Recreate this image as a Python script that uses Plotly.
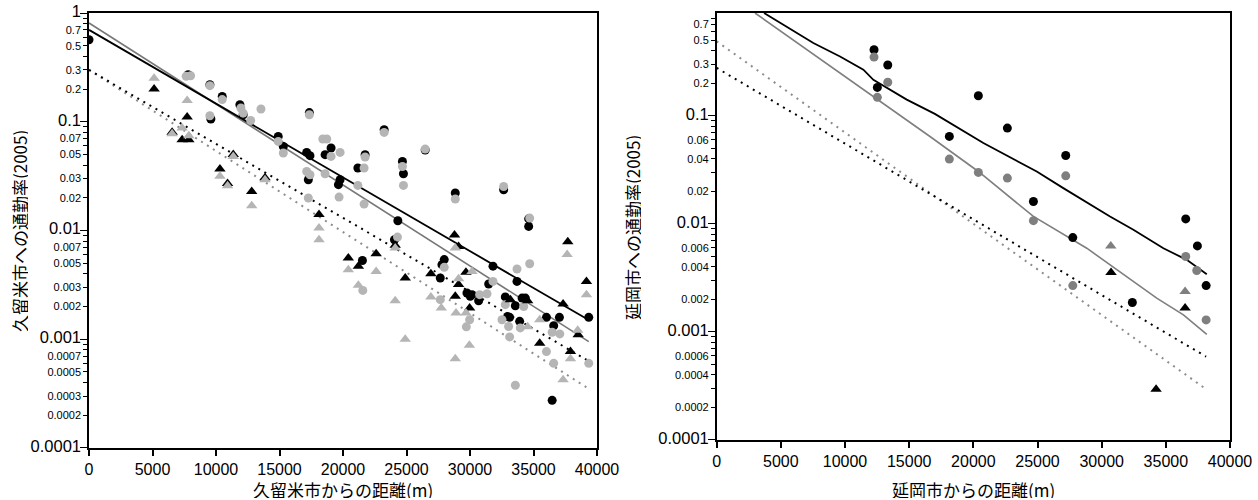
import math
import plotly.graph_objects as go

# ---------------- Left panel (久留米市) ----------------
kbc_x = [0, 7807, 9518, 10490, 11880, 12140, 9597, 14900, 15300, 17350, 18590, 19060, 17140, 17400, 17270, 19640, 19770, 21740, 21170, 23240,
         24680, 24760, 26470, 24320, 24050, 28840, 32650, 34620, 34620, 21530, 27970, 27790, 27660, 29760, 30020, 30680, 30160, 31470, 31810, 33700,
         32780, 33570, 34100, 34360, 32960, 33120, 33910, 36020, 36590, 37040, 36470, 39350]
kbc_y = [0.568, 0.271, 0.219, 0.171, 0.1435, 0.116, 0.106, 0.0733, 0.0593, 0.1215, 0.0498, 0.0574, 0.0523, 0.0488, 0.0293, 0.0264, 0.0293, 0.0498, 0.0376, 0.0845,
         0.0432, 0.0333, 0.055, 0.0123, 0.00823, 0.0221, 0.0237, 0.0128, 0.0109, 0.0053, 0.0054, 0.00485, 0.00366, 0.00266, 0.00248, 0.00226, 0.00257, 0.00322, 0.0047, 0.0034,
         0.00245, 0.00203, 0.00239, 0.00239, 0.00162, 0.00159, 0.00146, 0.00159, 0.00133, 0.00159, 0.000274, 0.00159]

kgc_x = [7650, 8000, 9518, 10490, 11960, 12140, 12730, 13540, 9518, 14900, 15300, 17350, 18410, 18720, 19060, 19770, 21740, 21660, 23240, 24680,
         24760, 26470, 17140, 17400, 18590, 19690, 21170, 21660, 17270, 24290, 34700, 28840, 32650, 21560, 27970, 27660, 29970, 29710, 30760, 31340,
         31810, 33700, 34700, 32780, 34230, 32520, 33040, 33120, 33960, 36470, 37070, 36020, 36590, 33570, 39350]
kgc_y = [0.262, 0.265, 0.215, 0.160, 0.134, 0.120, 0.1028, 0.131, 0.1137, 0.066, 0.0516, 0.116, 0.0694, 0.0694, 0.048, 0.0523, 0.0474, 0.0376, 0.0798, 0.0388,
         0.026, 0.0561, 0.0349, 0.0326, 0.0333, 0.0203, 0.026, 0.0175, 0.0199, 0.0087, 0.0130, 0.0195, 0.0254, 0.00281, 0.00458, 0.00231, 0.00151, 0.0013, 0.00257, 0.00262,
         0.0034, 0.00443, 0.00495, 0.00208, 0.002, 0.00151, 0.00131, 0.00105, 0.00127, 0.00116, 0.00112, 0.00077, 0.0006, 0.000377, 0.0006]

kbt_x = [5126, 7728, 6545, 7334, 7862, 10310, 10910, 11360, 12810, 13860, 18110, 28780, 29100, 37700, 20420, 21210, 22610, 24110, 24900, 26920,
         28840, 29680, 29100, 29970, 33180, 34540, 35490, 37330, 37910, 38520, 39170]
kbt_y = [0.200, 0.1106, 0.080, 0.0684, 0.0684, 0.0368, 0.027, 0.050, 0.0229, 0.0305, 0.0140, 0.0091, 0.00714, 0.0079, 0.00559, 0.00468, 0.00612, 0.0073, 0.00366, 0.00401,
         0.00248, 0.00412, 0.00318, 0.00194, 0.00231, 0.00226, 0.00092, 0.00211, 0.00077, 0.0011, 0.0034]

kgt_x = [5126, 7728, 6545, 7334, 7862, 10310, 10910, 11360, 12810, 13860, 18110, 18110, 20420, 21210, 22610, 24110, 24110, 24900, 26920, 27740,
         28840, 28900, 28840, 30160, 29100, 29680, 29950, 34540, 35490, 37330, 37650, 37910, 38480, 39170]
kgt_y = [0.252, 0.157, 0.0776, 0.0877, 0.0744, 0.0315, 0.0258, 0.048, 0.0169, 0.0293, 0.01054, 0.0082, 0.00436, 0.00313, 0.0042, 0.0069, 0.00226, 0.001, 0.00245, 0.00194,
         0.0069, 0.00174, 0.00066, 0.0042, 0.0036, 0.00174, 0.00088, 0.0013, 0.00151, 0.000425, 0.0060, 0.00066, 0.00121, 0.00257]

k_line_x = [0, 39350]
k_solid_black = [0.70, 0.0015]
k_solid_gray = [0.81, 0.00095]
k_dot_black = [0.30, 0.00063]
k_dot_gray = [0.30, 0.00035]

# ---------------- Right panel (延岡市) ----------------
nbc_x = [12260, 12520, 13330, 20390, 18130, 22650, 27200, 24680, 27750, 36550, 37460, 32390, 38140]
nbc_y = [0.408, 0.183, 0.295, 0.153, 0.0644, 0.0769, 0.0429, 0.0161, 0.00746, 0.0111, 0.00625, 0.00187, 0.00268]
ngc_x = [12260, 12520, 13330, 18130, 20390, 22650, 27200, 24680, 27750, 36550, 37410, 38140]
ngc_y = [0.349, 0.148, 0.204, 0.0397, 0.0299, 0.0265, 0.0278, 0.0107, 0.00268, 0.00498, 0.0037, 0.00129]
nbt_x = [30730, 36500, 34240]
nbt_y = [0.00354, 0.00166, 0.000295]
ngt_x = [30710, 36500]
ngt_y = [0.00625, 0.00236]

n_solid_black_x = [3690, 7530, 9610, 11430, 12210, 14810, 17000, 20780, 24940, 27010, 30650, 32470, 34810, 36630, 38190]
n_solid_black_y = [0.893, 0.471, 0.354, 0.267, 0.215, 0.141, 0.104, 0.0559, 0.0305, 0.0214, 0.0117, 0.0088, 0.00595, 0.00464, 0.00342]
n_solid_gray_x = [2985, 12210, 16620, 20390, 24680, 28840, 30650, 34290, 36370, 38190]
n_solid_gray_y = [0.893, 0.151, 0.0643, 0.0305, 0.0117, 0.00595, 0.00417, 0.00205, 0.00144, 0.00095]
n_dot_x = [0, 38140]
n_dot_black = [0.277, 0.00059]
n_dot_gray = [0.488, 0.000295]

# ---------------- Tick labels ----------------
x_ticks = [0, 5000, 10000, 15000, 20000, 25000, 30000, 35000, 40000]
x_tick_text = ["0", "5000", "10000", "15000", "20000", "25000", "30000", "35000", "40000"]
k_y_ticks = ["1", "0.7", "0.5", "0.3", "0.2", "0.1", "0.07", "0.05", "0.03", "0.02", "0.01",
             "0.007", "0.005", "0.003", "0.002", "0.001", "0.0007", "0.0005", "0.0003", "0.0002", "0.0001"]
n_y_ticks = ["0.7", "0.5", "0.3", "0.2", "0.1", "0.06", "0.04", "0.02", "0.01",
             "0.006", "0.004", "0.002", "0.001", "0.0006", "0.0004", "0.0002", "0.0001"]
decades = ["1", "0.1", "0.01", "0.001", "0.0001"]

NUM_FONT = "Liberation Sans, Arial, sans-serif"
JP_FONT = "Noto Sans CJK JP, sans-serif"

LIGHT = "#b5b5b5"
MID = "#7f7f7f"

# figure fills the page (body margin removed by post_script below)
W, H = 1258, 500
L, R, T, B = 89, 28, 13, 52
PW, PH = W - L - R, H - T - B

EPS = 0.0004  # keeps the end ticks (1 and 0.0001) inside the range


def tick_text(labels):
    out = []
    for s in labels:
        if s in decades:
            out.append("<span style='font-size:16.5px'>%s</span>" % s)
        else:
            out.append(s)
    return out


minor_vals = [k * 10 ** e for e in range(-4, 0) for k in range(1, 10)] + [1]

fig = go.Figure()

DOT = "2px,5px"
# ---- left lines ----
fig.add_trace(go.Scatter(x=k_line_x, y=k_dot_gray, mode="lines", line=dict(color="#8c8c8c", width=2, dash=DOT), xaxis="x", yaxis="y"))
fig.add_trace(go.Scatter(x=k_line_x, y=k_dot_black, mode="lines", line=dict(color="black", width=2, dash=DOT), xaxis="x", yaxis="y"))
fig.add_trace(go.Scatter(x=k_line_x, y=k_solid_gray, mode="lines", line=dict(color="#777777", width=1.6), xaxis="x", yaxis="y"))
fig.add_trace(go.Scatter(x=k_line_x, y=k_solid_black, mode="lines", line=dict(color="black", width=1.8), xaxis="x", yaxis="y"))
# ---- left markers ----
fig.add_trace(go.Scatter(x=kbc_x, y=kbc_y, mode="markers", marker=dict(symbol="circle", size=9, color="black"), xaxis="x", yaxis="y"))
fig.add_trace(go.Scatter(x=kgc_x, y=kgc_y, mode="markers", marker=dict(symbol="circle", size=9, color=LIGHT), xaxis="x", yaxis="y"))
fig.add_trace(go.Scatter(x=kbt_x, y=kbt_y, mode="markers", marker=dict(symbol="triangle-up", size=10, color="black"), xaxis="x", yaxis="y"))
fig.add_trace(go.Scatter(x=kgt_x, y=kgt_y, mode="markers", marker=dict(symbol="triangle-up", size=10, color=LIGHT), xaxis="x", yaxis="y"))

# ---- right lines ----
fig.add_trace(go.Scatter(x=n_dot_x, y=n_dot_gray, mode="lines", line=dict(color="#8c8c8c", width=2, dash=DOT), xaxis="x2", yaxis="y2"))
fig.add_trace(go.Scatter(x=n_dot_x, y=n_dot_black, mode="lines", line=dict(color="black", width=2, dash=DOT), xaxis="x2", yaxis="y2"))
fig.add_trace(go.Scatter(x=n_solid_gray_x, y=n_solid_gray_y, mode="lines", line=dict(color="#7f7f7f", width=1.6), xaxis="x2", yaxis="y2"))
fig.add_trace(go.Scatter(x=n_solid_black_x, y=n_solid_black_y, mode="lines", line=dict(color="black", width=1.8), xaxis="x2", yaxis="y2"))
# ---- right markers ----
fig.add_trace(go.Scatter(x=nbc_x, y=nbc_y, mode="markers", marker=dict(symbol="circle", size=9, color="black"), xaxis="x2", yaxis="y2"))
fig.add_trace(go.Scatter(x=ngc_x, y=ngc_y, mode="markers", marker=dict(symbol="circle", size=9, color=MID), xaxis="x2", yaxis="y2"))
fig.add_trace(go.Scatter(x=nbt_x, y=nbt_y, mode="markers", marker=dict(symbol="triangle-up", size=10, color="black"), xaxis="x2", yaxis="y2"))
fig.add_trace(go.Scatter(x=ngt_x, y=ngt_y, mode="markers", marker=dict(symbol="triangle-up", size=10, color=MID), xaxis="x2", yaxis="y2"))

# empty traces that carry the long decade ticks
fig.add_trace(go.Scatter(x=[], y=[], xaxis="x", yaxis="y3", hoverinfo="skip"))
fig.add_trace(go.Scatter(x=[], y=[], xaxis="x2", yaxis="y4", hoverinfo="skip"))

n_top = math.log10(0.893)
k_range = [-4 - EPS, 0 + EPS]
n_range = [-4 - EPS, n_top]

xcommon = dict(range=[0, 40000], tickmode="array", tickvals=x_ticks, ticktext=x_tick_text, ticks="outside", ticklen=6, tickwidth=1.5,
               showline=True, linewidth=1.5, linecolor="black", mirror=True, showgrid=False, zeroline=False, automargin=False,
               ticklabeloverflow="allow",
               tickfont=dict(family=NUM_FONT, size=16, color="black"), tickcolor="black")
ycommon = dict(type="log", tickmode="array", ticks="outside", ticklen=4, tickwidth=1.2, tickcolor="black",
               showline=True, linewidth=1.5, linecolor="black", mirror=True, showgrid=False, zeroline=False, automargin=False,
               ticklabeloverflow="allow",
               tickfont=dict(family=NUM_FONT, size=11, color="black"),
               minor=dict(tickmode="array", tickvals=minor_vals, ticks="outside", ticklen=4, tickwidth=1.2, tickcolor="black", showgrid=False))

TITLE_FONT = dict(family=JP_FONT, size=17, color="black")


def px_x(p):
    # page pixel -> paper fraction
    return (p - L) / PW


def px_y(p):
    return (H - B - p) / PH


annotations = [
    dict(text="久留米市からの距離(m)", x=px_x(343), y=px_y(489), xref="paper", yref="paper", height=18,
         showarrow=False, font=TITLE_FONT, xanchor="center", yanchor="middle"),
    dict(text="延岡市からの距離(m)", x=px_x(973), y=px_y(489), xref="paper", yref="paper", height=18,
         showarrow=False, font=TITLE_FONT, xanchor="center", yanchor="middle"),
    dict(text="久留米市への通勤率(2005)", x=px_x(19), y=px_y(231), xref="paper", yref="paper", textangle=-90, height=18,
         showarrow=False, font=TITLE_FONT, xanchor="center", yanchor="middle"),
    dict(text="延岡市への通勤率(2005)", x=px_x(632), y=px_y(228), xref="paper", yref="paper", textangle=-90, height=18,
         showarrow=False, font=TITLE_FONT, xanchor="center", yanchor="middle"),
]

fig.update_layout(
    width=W, height=H,
    margin=dict(l=L, r=R, t=T, b=B, autoexpand=False),
    plot_bgcolor="white", paper_bgcolor="white",
    showlegend=False,
    hovermode=False,
    annotations=annotations,
    xaxis=dict(domain=[0, (597 - L) / PW], anchor="y", **xcommon),
    yaxis=dict(domain=[0, 1], anchor="x", range=k_range,
               tickvals=[float(s) for s in k_y_ticks], ticktext=tick_text(k_y_ticks), **ycommon),
    xaxis2=dict(domain=[(716.7 - L) / PW, 1], anchor="y2", **xcommon),
    yaxis2=dict(domain=[(H - B - 440) / PH, 1], anchor="x2", range=n_range,
                tickvals=[float(s) for s in n_y_ticks], ticktext=tick_text(n_y_ticks), **ycommon),
    yaxis3=dict(type="log", overlaying="y", anchor="x", side="left", range=k_range, automargin=False,
                tickmode="array", tickvals=[float(s) for s in decades], ticks="outside", ticklen=8, tickwidth=1.2,
                tickcolor="black", showticklabels=False, showline=False, showgrid=False, zeroline=False),
    yaxis4=dict(type="log", overlaying="y2", anchor="x2", side="left", range=n_range, automargin=False,
                tickmode="array", tickvals=[float(s) for s in decades], ticks="outside", ticklen=8, tickwidth=1.2,
                tickcolor="black", showticklabels=False, showline=False, showgrid=False, zeroline=False),
)

fig.write_html("out.html", config={"displayModeBar": False},
               post_script="document.body.style.margin='0px';")
